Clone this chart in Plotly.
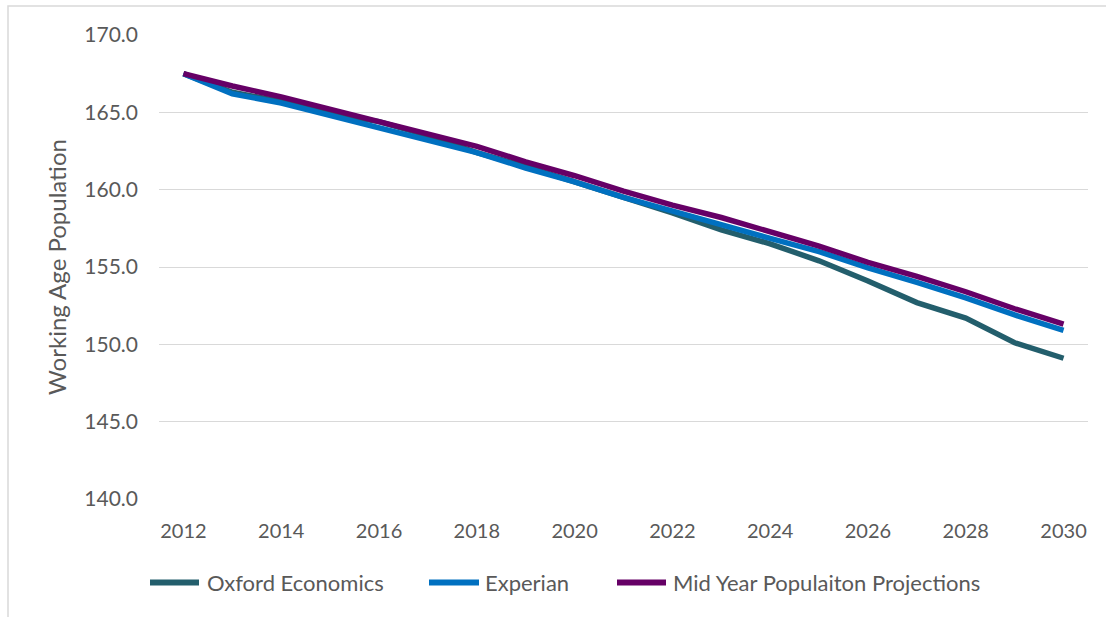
import plotly.graph_objects as go

# Working age population projections (thousands)
years = list(range(2012, 2031))
oxford = [167.5, 166.3, 165.7, 164.9, 164.4, 163.5, 162.4, 161.5, 160.5, 159.5,
          158.5, 157.4, 156.5, 155.4, 154.1, 152.7, 151.7, 150.1, 149.1]
experian = [167.5, 166.2, 165.6, 164.8, 164.0, 163.2, 162.4, 161.4, 160.5, 159.5,
            158.6, 157.7, 156.85, 156.0, 154.95, 154.0, 153.0, 151.9, 150.9]
mid_year = [167.5, 166.7, 166.0, 165.2, 164.4, 163.6, 162.8, 161.8, 160.9, 159.9,
            159.0, 158.2, 157.3, 156.35, 155.3, 154.4, 153.4, 152.3, 151.3]

series_names = ["Oxford Economics", "Experian", "Mid Year Populaiton Projections"]
series_values = [oxford, experian, mid_year]
series_colors = ["#235E6C", "#0070C0", "#660066"]

x_ticks = list(range(2012, 2031, 2))
y_ticks = [140, 145, 150, 155, 160, 165, 170]

W, H = 1106, 617
L, R, T, B = 159, 18, 35, 117.5
pw, ph = W - L - R, H - T - B

def px_x(x):
    return (x - L) / pw

def px_y(y):
    return (H - B - y) / ph

FONT = "Lato, Calibri, sans-serif"
TXT = "#595959"

fig = go.Figure()
for name, vals, col in zip(series_names, series_values, series_colors):
    fig.add_trace(go.Scatter(
        x=years, y=vals, mode="lines", name=name,
        line=dict(color=col, width=5.5),
        showlegend=False,
    ))

shapes = [
    # chart border
    dict(type="rect", xref="paper", yref="paper",
         x0=px_x(8), x1=px_x(1120), y0=px_y(640), y1=px_y(6),
         line=dict(color="#D9D9D9", width=1.5), fillcolor="rgba(0,0,0,0)", layer="below"),
]
annotations = []

# legend row beneath the plot
legend_pos = [(147, 202, 205), (426, 482, 483), (614, 669, 671)]
for (x0, x1, tx), name, col in zip(legend_pos, series_names, series_colors):
    shapes.append(dict(type="line", xref="paper", yref="paper",
                       x0=px_x(x0 + 3), x1=px_x(x1 - 3), y0=px_y(583), y1=px_y(583),
                       line=dict(color=col, width=6)))
    annotations.append(dict(xref="paper", yref="paper", x=px_x(tx), y=px_y(583),
                            text=name, showarrow=False, xanchor="left", yanchor="middle",
                            font=dict(family=FONT, size=22, color=TXT)))

fig.update_layout(
    width=W, height=H,
    margin=dict(l=L, r=R, t=T, b=B, pad=0),
    paper_bgcolor="white", plot_bgcolor="white",
    font=dict(family=FONT, size=20, color=TXT),
    shapes=shapes, annotations=annotations,
    xaxis=dict(
        range=[2011.5, 2030.5], tickvals=x_ticks, ticktext=[str(v) for v in x_ticks],
        showgrid=False, zeroline=False, showline=False, ticks="",
        tickfont=dict(family=FONT, size=20, color=TXT), ticklabelstandoff=18,
        automargin=False,
    ),
    yaxis=dict(
        range=[140, 170], tickvals=y_ticks, tickformat=".1f",
        showgrid=True, gridcolor="#D9D9D9", gridwidth=1.3,
        zeroline=False, showline=False, ticks="",
        tickfont=dict(family=FONT, size=21, color=TXT), ticklabelstandoff=20,
        title=dict(text="Working Age Population", font=dict(family=FONT, size=24, color=TXT),
                   standoff=10),
        automargin=False,
    ),
)

fig.write_html("out.html")
